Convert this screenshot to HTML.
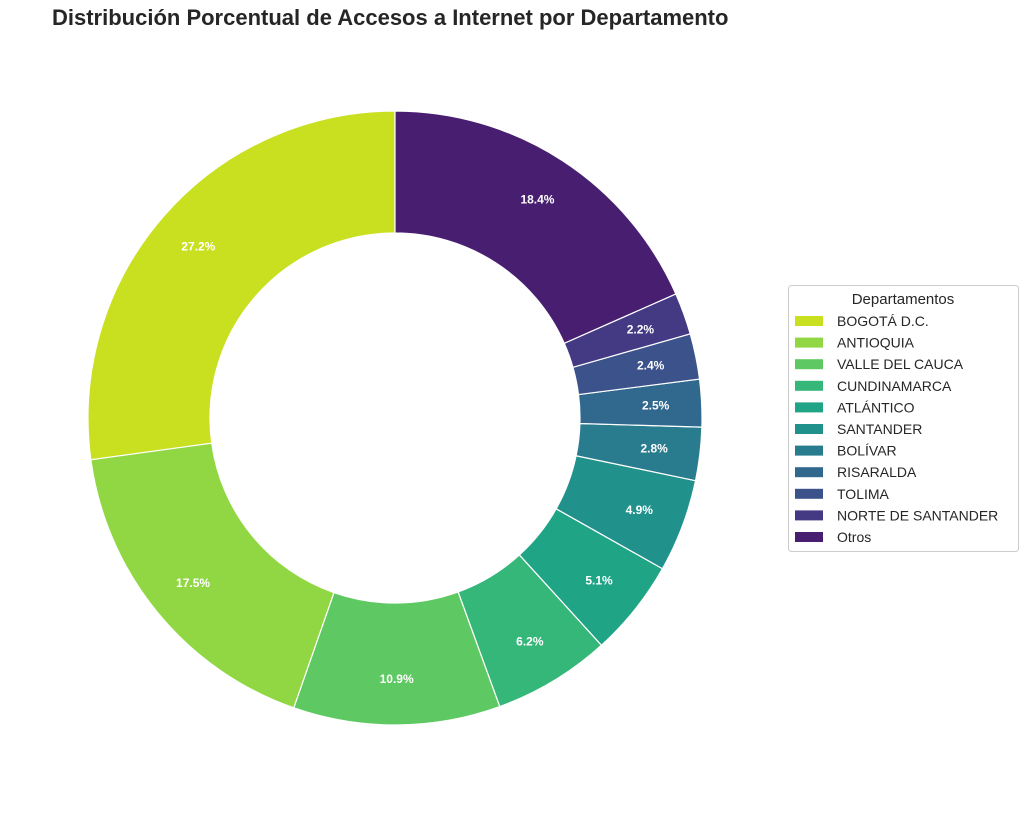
<!DOCTYPE html>
<html><head><meta charset="utf-8"><style>
body{margin:0;background:#fff;font-family:"Liberation Sans","DejaVu Sans",sans-serif}
</style></head><body>
<svg width="1028" height="814" xmlns="http://www.w3.org/2000/svg">
<rect width="1028" height="814" fill="#fff"/>
<text x="52" y="25" font-size="22" font-weight="bold" fill="#262626">Distribución Porcentual de Accesos a Internet por Departamento</text>
<g id="slices"></g>
<g id="legend">
<rect x="788.5" y="285.5" width="230" height="266" rx="3" fill="#fff" stroke="#ccc"/>
<text x="903" y="304" font-size="15" text-anchor="middle" fill="#262626">Departamentos</text>
</g>
</svg>
<script>
const categories=["BOGOTÁ D.C.","ANTIOQUIA","VALLE DEL CAUCA","CUNDINAMARCA","ATLÁNTICO","SANTANDER","BOLÍVAR","RISARALDA","TOLIMA","NORTE DE SANTANDER","Otros"];
const values=[27.2,17.5,10.9,6.2,5.1,4.9,2.8,2.5,2.4,2.2,18.4];
const colors=["#c8e020","#90d743","#5ec962","#35b779","#20a486","#21918c","#287c8e","#31688e","#3b528b","#443983","#481f70"];
const NS="http://www.w3.org/2000/svg";
const cx=395,cy=418,R=307,r=185;
const total=values.reduce((a,b)=>a+b,0);
const g=document.getElementById('slices');
let a=90;
function pt(rad,deg){const t=deg*Math.PI/180;return [cx+rad*Math.cos(t),cy-rad*Math.sin(t)];}
values.forEach((v,i)=>{
  const sweep=v/total*360,a2=a+sweep,large=sweep>180?1:0;
  const p1=pt(R,a),p2=pt(R,a2),p3=pt(r,a2),p4=pt(r,a);
  const p=document.createElementNS(NS,'path');
  p.setAttribute('d',`M${p1[0]},${p1[1]} A${R},${R} 0 ${large} 0 ${p2[0]},${p2[1]} L${p3[0]},${p3[1]} A${r},${r} 0 ${large} 1 ${p4[0]},${p4[1]} Z`);
  p.setAttribute('fill',colors[i]);p.setAttribute('stroke','#fff');p.setAttribute('stroke-width','1.2');
  
  
  g.appendChild(p);
  const m=pt(R*0.85,a+sweep/2);
  const t=document.createElementNS(NS,'text');
  t.setAttribute('x',m[0]);t.setAttribute('y',m[1]+4);t.setAttribute('text-anchor','middle');
  t.setAttribute('font-size','12');t.setAttribute('font-weight','bold');t.setAttribute('fill','#fff');
  
  
  t.textContent=v.toFixed(1)+'%';g.appendChild(t);
  a=a2;
});
const lg=document.getElementById('legend');
categories.forEach((c,i)=>{
  const y=321+i*21.6;
  const rc=document.createElementNS(NS,'rect');
  rc.setAttribute('x',795);rc.setAttribute('y',y-5);rc.setAttribute('width',28);rc.setAttribute('height',10);rc.setAttribute('fill',colors[i]);
  
  
  lg.appendChild(rc);
  const t=document.createElementNS(NS,'text');
  t.setAttribute('x',837);t.setAttribute('y',y+5);t.setAttribute('font-size','14');t.setAttribute('fill','#262626');
  
  
  t.textContent=c;lg.appendChild(t);
});
</script>
</body></html>
